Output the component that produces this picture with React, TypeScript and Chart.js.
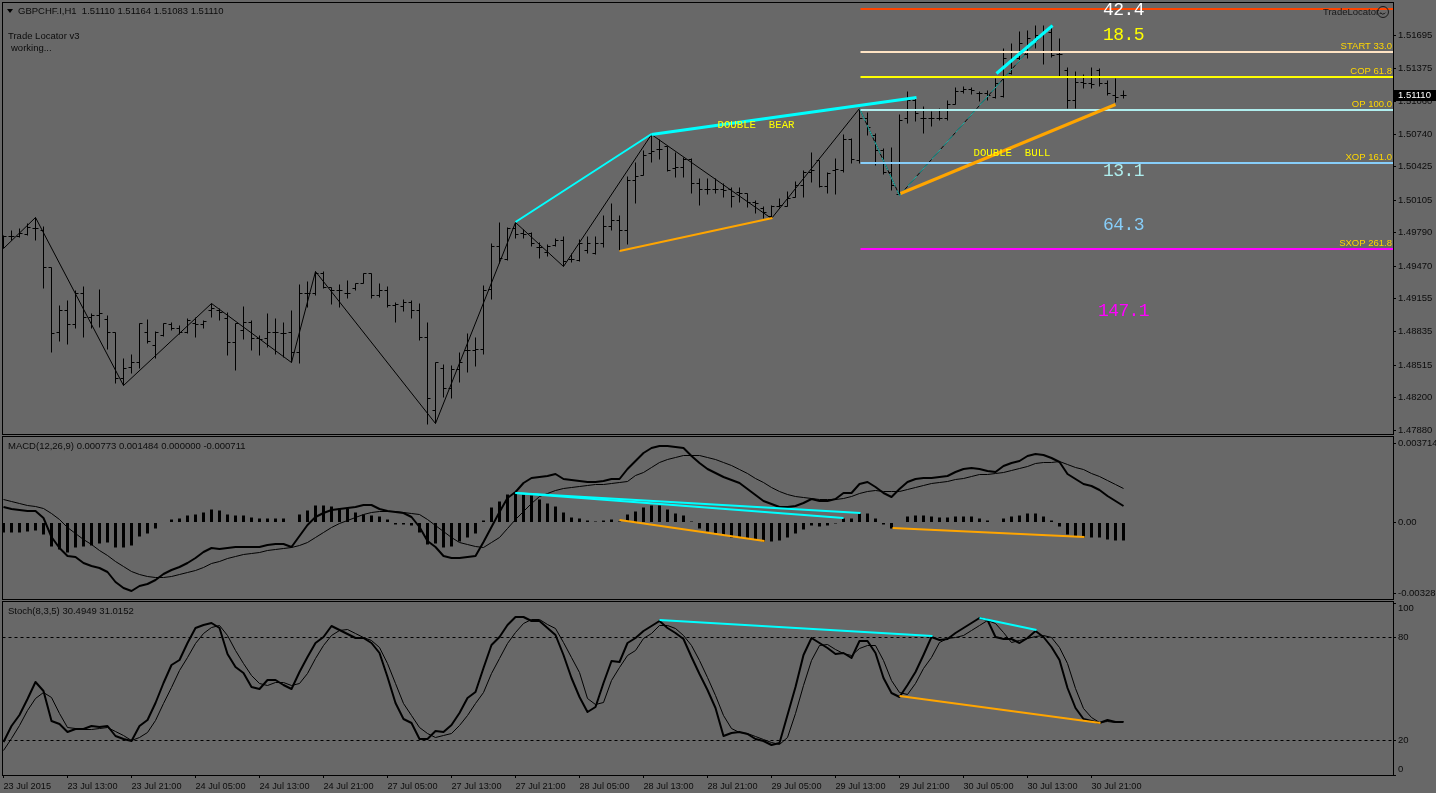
import React, { useEffect, useRef } from "react";
import Chart from "chart.js/auto";

// Prices are in points of 0.00001 (149765 = 1.49765). One entry per hourly bar.
const highPoints = [
  149765,149813,149832,149880,149938,149851,149456,149090,149138,149234,
  149273,149013,149244,148993,148830,148579,148617,148916,148955,148839,
  148916,148926,148897,148964,148974,148945,149109,149061,149022,148916,
  149080,148945,148801,149013,148964,148926,149042,149292,149321,149418,
  149418,149263,149292,149331,149302,149398,149398,149302,149273,149119,
  149148,149138,149109,148926,148540,148521,148511,148637,148820,148781,
  149283,149687,149890,149842,149890,149822,149794,149697,149678,149736,
  149755,149591,149726,149755,149755,149957,150073,149957,150333,150468,
  150584,150738,150690,150623,150565,150517,150507,150314,150314,150314,
  150266,150227,150227,150169,150102,150044,150054,150121,150189,150285,
  150391,150565,150488,150372,150507,150738,150700,150989,150950,150748,
  150603,150613,150931,151153,151085,151008,150960,150989,151066,151191,
  151201,151191,151153,151162,151278,151567,151615,151731,151741,151789,
  151789,151799,151664,151384,151346,151317,151384,151374,151259,151278,
  151164,
];
const lowPoints = [
  149639,149716,149745,149765,149716,149254,148637,148743,148714,148868,
  148781,148868,148878,148666,148338,148319,148434,148482,148723,148579,
  148791,148849,148810,148820,148781,148868,148974,148945,148608,148463,
  148762,148656,148608,148685,148617,148589,148540,148531,149071,149186,
  149254,149099,149071,149157,149234,149302,149157,149167,149071,148926,
  149032,148964,148752,147943,147952,148203,148193,148348,148444,148502,
  148617,149148,149495,149524,149736,149736,149659,149543,149562,149659,
  149466,149504,149514,149591,149581,149649,149813,149620,149678,150073,
  150343,150468,150497,150382,150324,150324,150169,150054,150160,150169,
  150131,150035,150083,150035,149977,149928,149928,150035,150044,150131,
  150131,150276,150227,150169,150160,150372,150459,150459,150729,150439,
  150353,150198,150150,150844,150864,150748,150815,150873,150873,151027,
  151133,151124,151056,151066,151085,151095,151317,151452,151471,151567,
  151413,151481,151297,150989,150989,151182,151182,151201,151114,151047,
  151083,
];
const openPoints = [
  149716,149755,149755,149774,149832,149813,149456,148830,149042,148907,
  149205,148974,148993,148955,148830,148386,148492,148540,148830,148704,
  148801,148907,148868,148830,148916,148907,149042,149042,148964,148733,
  148849,148926,148772,148772,148830,148820,148830,148637,149205,149205,
  149398,149263,149234,149205,149254,149302,149398,149186,149234,149090,
  149080,149119,149042,148781,148078,148482,148290,148473,148656,148656,
  148666,149244,149659,149533,149832,149784,149784,149649,149601,149668,
  149716,149533,149524,149620,149591,149687,149851,149909,149813,150295,
  150343,150555,150594,150623,150410,150420,150497,150266,150208,150208,
  150208,150208,150179,150169,150083,150025,149948,150044,150044,150131,
  150247,150372,150488,150237,150391,150391,150690,150488,150892,150729,
  150584,150372,150160,150892,151066,150892,150892,150892,150892,151027,
  151153,151172,151133,151133,151095,151105,151326,151471,151509,151644,
  151693,151722,151509,151355,151066,151240,151230,151355,151230,151114,
  151110,
];
const closePoints = [
  149755,149755,149784,149842,149832,149456,148820,149042,148907,149205,
  148974,148993,149013,148830,148386,148482,148540,148916,148743,148830,
  148916,148868,148830,148945,148907,148936,149061,149022,148733,148916,
  148926,148772,148762,148830,148830,148820,148637,149205,149205,149398,
  149263,149234,149234,149205,149302,149398,149186,149234,149090,149099,
  149119,149042,148781,148193,148540,148290,148473,148540,148656,148666,
  149234,149659,149543,149832,149774,149774,149687,149649,149659,149716,
  149514,149533,149687,149687,149687,149851,149909,149813,150295,150333,
  150536,150574,150594,150391,150420,150497,150266,150208,150208,150208,
  150198,150141,150169,150083,150073,149986,150044,150054,150121,150247,
  150372,150391,150237,150362,150401,150690,150497,150892,150806,150584,
  150372,150247,150873,151066,150941,150892,150892,150892,151027,151153,
  151172,151162,151133,151114,151230,151471,151471,151615,151664,151693,
  151722,151500,151509,151066,151240,151230,151220,151230,151133,151095,
  151110,
];

const zigzagBars = [0, 4, 15, 26, 36, 39, 54, 64, 70, 81, 96, 107, 112, 131];
const zigzagPoints = [149639, 149938, 148319, 149109, 148540, 149418, 147952, 149890, 149466, 150738, 149928, 150989, 150150, 151799];
const thinPatternBars = [107, 112, 131];
const thinPatternPoints = [150989, 150150, 151799];

const bearLine1Bars = [64, 81];
const bearLine1Points = [149890, 150738];
const bearLine2Bars = [81, 114.125];
const bearLine2Points = [150738, 151095];
const bullLine1Bars = [77, 96.125];
const bullLine1Points = [149610, 149928];
const bullLine2Bars = [112.125, 139];
const bullLine2Points = [150169, 151027];
const bearLine3Bars = [124.125, 131.125];
const bearLine3Points = [151326, 151789];

const levelNames = ["", "START 33.0", "COP 61.8", "OP 100.0", "XOP 161.0", "SXOP 261.8"];
const levelPoints = [151948, 151529, 151291, 150970, 150462, 149633];
const levelStartBar = 107.125;
const levelEndBar = 173.75;

const bigLabels = ["42.4", "18.5", "13.1", "64.3", "147.1"];
const bigLabelPoints = [151943, 151702, 150391, 149871, 149042];
const bigLabelBar = 140;

const priceTicks = [151695, 151375, 151060, 150740, 150425, 150105, 149790, 149470, 149155, 148835, 148515, 148200, 147880];
const priceTickLabels = ["1.51695", "1.51375", "1.51060", "1.50740", "1.50425", "1.50105", "1.49790", "1.49470", "1.49155", "1.48835", "1.48515", "1.48200", "1.47880"];

// MACD pane values are in millionths (705 = 0.000705).
const macdMain = [
  705,627,580,549,549,190,-667,-1213,-1571,-1634,
  -1883,-2024,-2148,-2335,-2803,-3084,-3208,-2959,-2881,-2694,
  -2413,-2226,-2070,-1883,-1681,-1369,-1182,-1229,-1213,-1151,
  -1151,-1151,-1135,-1057,-1010,-1010,-1135,-636,-122,237,
  455,580,611,658,736,814,814,611,518,502,
  455,237,-200,-854,-1166,-1571,-1681,-1681,-1634,-1571,
  -901,-200,502,1126,1437,1858,2061,2108,2170,2248,
  2030,1983,1952,1890,1890,1936,2030,2030,2482,2887,
  3230,3464,3589,3589,3511,3480,3106,2794,2513,2295,
  2139,1983,1827,1578,1281,1001,861,736,705,767,
  892,1094,1016,1016,1079,1391,1391,1796,1905,1671,
  1391,1172,1547,1905,2014,2061,2092,2108,2170,2373,
  2513,2529,2513,2420,2342,2638,2794,2887,3106,3183,
  3168,3028,2809,2264,2030,1796,1702,1515,1250,1001,
  773,
];
const macdSignal = [
  1079,985,892,814,767,658,424,159,-200,-511,
  -776,-1026,-1291,-1525,-1790,-2039,-2273,-2429,-2507,-2538,
  -2554,-2507,-2429,-2335,-2226,-2070,-1914,-1790,-1681,-1571,
  -1494,-1431,-1369,-1291,-1244,-1197,-1135,-1057,-901,-667,
  -433,-231,-44,112,268,393,486,533,533,518,
  486,455,377,143,-122,-402,-698,-901,-1026,-1104,
  -1135,-901,-698,-278,143,533,892,1235,1359,1515,
  1593,1640,1702,1749,1780,1796,1858,1905,1952,2217,
  2373,2607,2809,2950,3074,3137,3152,3137,3059,2965,
  2840,2685,2498,2295,2061,1905,1671,1469,1313,1235,
  1188,1126,1110,1110,1110,1157,1235,1359,1469,1515,
  1484,1453,1469,1547,1671,1749,1827,1905,1952,2014,
  2092,2170,2264,2264,2295,2373,2451,2529,2638,2763,
  2809,2840,2872,2731,2607,2482,2326,2170,1983,1780,
  1593,
];
const macdHistogram = [
  -433,-433,-433,-387,-355,-543,-1104,-1260,-1369,-1166,
  -1104,-1057,-979,-901,-1135,-1135,-1057,-636,-511,-278,
  34,159,190,346,393,502,611,580,393,346,
  346,237,206,190,190,190,34,393,580,814,
  814,767,658,658,502,393,346,299,143,-59,
  -75,-122,-433,-1010,-979,-1166,-1088,-854,-667,-511,
  112,705,1001,1328,1359,1328,1281,1094,923,767,
  486,237,190,112,81,112,143,81,393,533,
  705,814,814,627,424,346,50,-278,-402,-511,
  -589,-667,-698,-745,-792,-870,-870,-823,-667,-480,
  -309,-122,-153,-106,-44,190,206,424,424,206,
  -59,-278,19,299,346,346,299,253,268,299,
  299,299,190,112,19,190,299,346,424,424,
  299,112,-168,-558,-636,-698,-667,-667,-761,-823,
  -823,
];
const macdBearBars = [[64, 107.125], [64, 105]];
const macdBearValues = [[1389, 454], [1389, 206]];
const macdBullBars = [[77, 95.125], [111.125, 135.125]];
const macdBullValues = [[98, -870], [-276, -683]];
const macdTicks = [3714, 0, -3287];
const macdTickLabels = ["0.003714", "0.00", "-0.003287"];

const stochMain = [
  19.2,28.3,34.7,43.8,54.1,48.9,31.4,29.5,24.8,26.4,
  26.4,28.3,27.9,28.3,22.5,20.5,19.6,28.3,31.8,41.5,
  53.2,63.8,66.7,76.5,85.2,87.1,88.1,85.2,70.2,62.9,
  59.0,50.8,49.7,55.1,55.1,52.2,49.7,60.0,68.7,76.8,
  80.3,86.7,84.2,81.7,79.6,79.6,76.5,70.6,57.0,41.5,
  32.4,29.9,20.5,20.5,25.4,24.6,28.9,35.7,44.4,48.3,
  61.9,75.5,80.3,87.1,92.0,92.0,89.7,89.7,85.2,81.3,
  69.7,56.1,45.4,36.3,39.6,53.2,66.2,65.8,76.8,79.4,
  83.8,86.5,89.7,85.2,82.3,78.8,68.7,58.6,49.3,38.6,
  22.5,24.0,25.0,23.6,20.5,19.6,17.2,18.6,34.7,50.8,
  69.7,79.4,76.5,73.5,70.2,70.6,67.7,77.8,77.8,70.6,
  56.1,47.3,45.4,52.2,60.0,69.7,80.3,78.4,78.8,82.3,
  85.2,88.1,91.0,90.0,79.9,78.8,78.8,76.5,79.4,83.6,
  79.9,74.5,66.7,50.2,38.6,32.2,31.4,30.2,31.8,30.6,
  30.4949,
];
const stochSignal = [
  14.3,21.1,28.9,37.6,44.4,48.3,45.0,35.7,27.9,26.9,
  26.4,26.4,26.9,27.9,25.6,23.1,20.2,22.1,25.0,31.8,
  41.5,50.8,60.9,68.7,76.5,82.3,86.2,87.1,81.3,72.6,
  64.8,58.0,53.2,52.2,54.1,54.1,52.2,53.2,59.0,67.7,
  75.5,81.3,84.2,84.6,82.3,79.9,78.4,74.5,64.8,53.2,
  41.5,34.7,27.9,24.4,22.1,23.1,24.4,28.9,34.7,41.5,
  48.3,59.0,67.7,76.5,83.2,88.5,90.4,90.4,87.7,85.2,
  77.4,68.7,60.0,44.4,41.1,42.5,55.1,62.9,69.7,72.6,
  79.4,82.3,87.1,87.1,85.2,81.3,75.5,66.7,57.0,46.4,
  34.7,26.9,25.0,24.0,22.5,20.5,19.2,17.8,22.1,35.7,
  52.2,66.7,75.5,75.9,73.0,71.0,69.7,73.5,75.5,75.5,
  66.7,55.1,48.3,46.9,53.2,61.9,68.7,77.4,79.4,79.9,
  81.3,84.2,87.1,90.0,88.1,83.2,77.4,78.4,79.4,80.7,
  81.1,79.9,74.5,64.8,50.2,38.6,33.7,30.8,31.4,30.6,
  31.0152,
];
const stochBearBars = [[82, 116.125], [122, 129.125]];
const stochBearValues = [[90.0, 80.9], [91.4, 84.2]];
const stochBullBars = [112, 137.125];
const stochBullValues = [45.6, 30.2];
const stochLevels = [80, 20];
const stochTicks = [100, 80, 20, 0];
const stochTickLabels = ["100", "80", "20", "0"];

const timeTickBars = [0, 8, 16, 24, 32, 40, 48, 56, 64, 72, 80, 88, 96, 104, 112, 120, 128, 136];
const timeTickLabels = [
  "23 Jul 2015", "23 Jul 13:00", "23 Jul 21:00", "24 Jul 05:00", "24 Jul 13:00", "24 Jul 21:00",
  "27 Jul 05:00", "27 Jul 13:00", "27 Jul 21:00", "28 Jul 05:00", "28 Jul 13:00", "28 Jul 21:00",
  "29 Jul 05:00", "29 Jul 13:00", "29 Jul 21:00", "30 Jul 05:00", "30 Jul 13:00", "30 Jul 21:00",
];

const headerTitle = "GBPCHF.I,H1  1.51110 1.51164 1.51083 1.51110";
const macdTitle = "MACD(12,26,9) 0.000773 0.001484 0.000000 -0.000711";
const stochTitle = "Stoch(8,3,5) 30.4949 31.0152";
const currentPricePoints = 151110;
const currentPriceLabel = "1.51110";

const BG = "#686868";
const INK = "#0c0c0c";
const SMALL = '9.5px "Liberation Sans"';
const CYAN = "#00ffff";
const ORANGE = "#ffa500";
const TEAL = "#20b2aa";
const LEVEL_COLORS = ["#ff4500", "#ffe4c4", "#ffff00", "#afeeee", "#87cefa", "#ff00ff"];
const BIG_COLORS = ["#ffffff", "#ffff00", "#afeeee", "#87cefa", "#ff00ff"];

const snap = (scale: any) => {
  if (scale.__snapped) return;
  const base = scale.getPixelForValue.bind(scale);
  scale.getPixelForValue = (v: number, i?: number) => Math.round(base(v, i)) + 0.5;
  scale.__snapped = true;
};

const polyline = (bars: number[], vals: number[], color: string, width: number, order: number, dash?: number[]) => ({
  type: "line",
  data: bars.map((x, i) => ({ x, y: vals[i] })),
  borderColor: color,
  borderWidth: width,
  borderDash: dash || [],
  borderJoinStyle: "round",
  borderCapStyle: "butt",
  pointRadius: 0,
  tension: 0,
  order,
});

const allBars = highPoints.map((_, i) => i);

// Even-width strokes sit on whole pixels, so they stay sharp on the half-pixel snapped scale.
const crispPlugin = {
  id: "crisp",
  beforeDatasetDraw(chart: any, args: any) {
    const ds = chart.data.datasets[args.index];
    if (ds.borderWidth === 2) {
      chart.ctx.save();
      chart.ctx.translate(0, -0.5);
      ds.__shifted = true;
    }
  },
  afterDatasetDraw(chart: any, args: any) {
    const ds = chart.data.datasets[args.index];
    if (ds.__shifted) {
      chart.ctx.restore();
      ds.__shifted = false;
    }
  },
};

function paneOptions(p: any) {
  return {
    responsive: false,
    animation: false,
    devicePixelRatio: 1,
    events: [],
    layout: { autoPadding: false, padding: { left: 2, right: 0, top: p.padTop, bottom: p.padBottom } },
    plugins: { legend: { display: false }, tooltip: { enabled: false } },
    scales: {
      x: {
        type: "linear",
        offset: false,
        min: -0.125,
        max: 173.75,
        display: !!p.showX,
        afterBuildTicks: (s: any) => {
          snap(s);
          s.ticks = timeTickBars.map((value) => ({ value }));
        },
        afterFit: (s: any) => {
          if (p.showX) s.height = 18;
          s.paddingLeft = 0;
          s.paddingRight = 0;
        },
        border: { display: false },
        grid: { display: true, drawOnChartArea: false, offset: false, tickLength: 3, color: "#000" },
        ticks: {
          autoSkip: false,
          maxRotation: 0,
          minRotation: 0,
          align: "start",
          padding: 3,
          color: INK,
          font: { family: '"Liberation Sans"', size: 9.2 },
          callback: (_: any, i: number) => timeTickLabels[i],
        },
      },
      y: {
        type: "linear",
        position: "right",
        min: p.yMin,
        max: p.yMax,
        afterBuildTicks: (s: any) => {
          snap(s);
          s.ticks = p.ticks.map((value: number) => ({ value }));
          if (p.labelShift && !s.__shifted) {
            const compute = s._computeLabelItems.bind(s);
            s._computeLabelItems = (area: any) => {
              const items = compute(area);
              items.forEach((it: any) => {
                const d = p.labelShift[it.label];
                if (d) it.options.translation[1] += d;
              });
              return items;
            };
            s.__shifted = true;
          }
        },
        afterFit: (s: any) => {
          s.width = 43;
          s.paddingTop = 0;
          s.paddingBottom = 0;
        },
        border: { display: false },
        grid: { display: true, drawOnChartArea: false, tickLength: 3, color: "#000" },
        ticks: {
          autoSkip: false,
          padding: 2,
          color: INK,
          font: { family: '"Liberation Sans"', size: 9.5 },
          callback: (_: any, i: number) => p.labels[i],
        },
      },
    },
  };
}

const framePlugin = (draw: (c: any, ctx: CanvasRenderingContext2D) => void) => ({
  id: "frame",
  afterDraw(chart: any) {
    const { ctx, chartArea: a } = chart;
    ctx.save();
    ctx.strokeStyle = "#000";
    ctx.lineWidth = 1;
    ctx.strokeRect(a.left + 0.5, a.top + 0.5, a.right - a.left, a.bottom - a.top);
    ctx.textBaseline = "middle";
    draw(chart, ctx);
    ctx.restore();
  },
});

const drawMainText = (chart: any, ctx: CanvasRenderingContext2D) => {
  const { x, y } = chart.scales;
  const a = chart.chartArea;
  ctx.fillStyle = "#000";
  ctx.beginPath();
  ctx.moveTo(7, 9);
  ctx.lineTo(13, 9);
  ctx.lineTo(10, 13);
  ctx.closePath();
  ctx.fill();
  ctx.font = SMALL;
  ctx.fillStyle = INK;
  ctx.fillText(headerTitle, 18, 11);
  ctx.fillText("Trade Locator v3", 8, 36);
  ctx.fillText("working...", 11, 48);

  ctx.fillStyle = "#1a1a1a";
  ctx.fillText("TradeLocator", 1323, 12);
  ctx.strokeStyle = "#1a1a1a";
  ctx.beginPath();
  ctx.arc(1383, 12, 5.5, 0, Math.PI * 2);
  ctx.moveTo(1380, 14);
  ctx.arc(1383, 11, 3, Math.PI * 0.8, Math.PI * 0.2, true);
  ctx.stroke();

  ctx.textAlign = "right";
  ctx.fillStyle = "#ffd700";
  levelNames.forEach((name, i) => {
    if (name) ctx.fillText(name, a.right - 1, y.getPixelForValue(levelPoints[i]) - 6);
  });

  ctx.save();
  ctx.beginPath();
  ctx.rect(a.left, a.top, a.right - a.left, a.bottom - a.top);
  ctx.clip();
  ctx.textAlign = "center";
  ctx.font = '18px "Liberation Mono"';
  (ctx as any).letterSpacing = "-0.6px";
  bigLabels.forEach((t, i) => {
    ctx.fillStyle = BIG_COLORS[i];
    ctx.fillText(t, x.getPixelForValue(bigLabelBar), y.getPixelForValue(bigLabelPoints[i]) + 1);
  });
  (ctx as any).letterSpacing = "0px";
  ctx.restore();

  ctx.textAlign = "left";
  ctx.font = '10.7px "Liberation Mono"';
  ctx.fillStyle = "#ffff00";
  ctx.fillText("DOUBLE  BEAR", x.getPixelForValue(89.25), y.getPixelForValue(150825));
  ctx.fillText("DOUBLE  BULL", x.getPixelForValue(121.25), y.getPixelForValue(150555));

  const py = y.getPixelForValue(currentPricePoints);
  ctx.fillStyle = "#000";
  ctx.fillRect(a.right + 1, py - 5.5, 42, 11);
  ctx.font = SMALL;
  ctx.fillStyle = "#fff";
  ctx.fillText(currentPriceLabel, a.right + 5, py);
};

export default function App() {
  const mainRef = useRef<HTMLCanvasElement>(null);
  const macdRef = useRef<HTMLCanvasElement>(null);
  const stochRef = useRef<HTMLCanvasElement>(null);

  useEffect(() => {
    document.body.style.margin = "0";
    document.body.style.background = BG;

    const main = new Chart(mainRef.current as any, {
      type: "bar",
      data: {
        datasets: [
          {
            type: "bar",
            data: allBars.map((i) => ({ x: i, y: [lowPoints[i], highPoints[i]] })),
            backgroundColor: "#000",
            borderWidth: 0,
            barThickness: 1,
            inflateAmount: 0,
            order: 10,
          },
          {
            type: "line",
            showLine: false,
            data: allBars.map((i) => ({ x: i, y: openPoints[i] })),
            pointStyle: "dash",
            pointRotation: 180,
            pointRadius: 3,
            pointBorderWidth: 1,
            pointBorderColor: "#000",
            order: 9,
          },
          {
            type: "line",
            showLine: false,
            data: allBars.map((i) => ({ x: i, y: closePoints[i] })),
            pointStyle: "dash",
            pointRadius: 3,
            pointBorderWidth: 1,
            pointBorderColor: "#000",
            order: 9,
          },
          polyline(zigzagBars, zigzagPoints, "#000", 1, 8),
          polyline(thinPatternBars, thinPatternPoints, TEAL, 1, 7, [14, 4]),
          ...levelPoints.map((v, i) => polyline([levelStartBar, levelEndBar], [v, v], LEVEL_COLORS[i], 2, 6)),
          polyline(bearLine1Bars, bearLine1Points, CYAN, 2, 5),
          polyline(bearLine2Bars, bearLine2Points, CYAN, 3, 5),
          polyline(bearLine3Bars, bearLine3Points, CYAN, 3, 5),
          polyline(bullLine1Bars, bullLine1Points, ORANGE, 2, 5),
          polyline(bullLine2Bars, bullLine2Points, ORANGE, 3, 5),
        ],
      } as any,
      options: paneOptions({
        padTop: 2,
        padBottom: 1,
        yMin: 147846.2,
        yMax: 152010.7,
        ticks: priceTicks,
        labels: priceTickLabels,
      }) as any,
      plugins: [crispPlugin, framePlugin(drawMainText)],
    });

    const macd = new Chart(macdRef.current as any, {
      type: "bar",
      data: {
        datasets: [
          {
            type: "bar",
            data: allBars.map((i) => ({ x: i, y: macdHistogram[i] })),
            backgroundColor: "#000",
            borderWidth: 0,
            barThickness: 3,
            inflateAmount: 0,
            order: 10,
          },
          polyline(allBars, macdSignal, "#000", 1, 9),
          polyline(allBars, macdMain, "#000", 2, 8),
          ...macdBearBars.map((b, i) => polyline(b, macdBearValues[i], CYAN, 2, 5)),
          ...macdBullBars.map((b, i) => polyline(b, macdBullValues[i], ORANGE, 2, 5)),
        ],
      } as any,
      options: paneOptions({
        padTop: 1,
        padBottom: 1,
        yMin: -3583,
        yMax: 4041,
        ticks: macdTicks,
        labels: macdTickLabels,
      }) as any,
      plugins: [
        crispPlugin,
        framePlugin((_c, ctx) => {
          ctx.font = SMALL;
          ctx.fillStyle = INK;
          ctx.fillText(macdTitle, 8, 11);
        }),
      ],
    });

    const stoch = new Chart(stochRef.current as any, {
      type: "line",
      data: {
        datasets: [
          ...stochLevels.map((v) => polyline([-0.125, 173.75], [v, v], "#000", 1, 10, [3, 3])),
          polyline(allBars, stochSignal, "#000", 1, 9),
          polyline(allBars, stochMain, "#000", 2, 8),
          ...stochBearBars.map((b, i) => polyline(b, stochBearValues[i], CYAN, 2, 5)),
          polyline(stochBullBars, stochBullValues, ORANGE, 2, 5),
        ],
      } as any,
      options: paneOptions({
        padTop: 1,
        padBottom: 0,
        showX: true,
        yMin: -0.23,
        yMax: 101.1,
        ticks: stochTicks,
        labels: stochTickLabels,
        labelShift: { "100": 5, "0": -6 },
      }) as any,
      plugins: [
        crispPlugin,
        framePlugin((_c, ctx) => {
          ctx.font = SMALL;
          ctx.fillStyle = INK;
          ctx.fillText(stochTitle, 8, 11);
        }),
      ],
    });

    return () => {
      main.destroy();
      macd.destroy();
      stoch.destroy();
    };
  }, []);

  const abs = (top: number): React.CSSProperties => ({ position: "absolute", left: 0, top, display: "block" });
  return (
    <div style={{ position: "relative", width: 1436, height: 793, background: BG, overflow: "hidden" }}>
      <canvas ref={mainRef} width={1436} height={435} style={abs(0)} />
      <canvas ref={macdRef} width={1436} height={165} style={abs(435)} />
      <canvas ref={stochRef} width={1436} height={193} style={abs(600)} />
    </div>
  );
}
